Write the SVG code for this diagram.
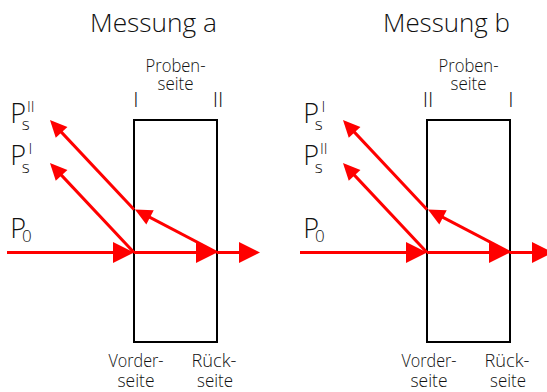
<svg xmlns="http://www.w3.org/2000/svg" width="547" height="392" viewBox="0 0 547 392">
<style>
text{font-family:"Open Sans","Noto Sans","Liberation Sans",sans-serif;font-weight:300;fill:#111}
.title{font-size:26px;text-anchor:middle}
.lbl{font-size:18px;text-anchor:middle}
.face{font-size:21px;text-anchor:middle}
.P{font-size:27px}
.sub{font-size:17px}
.sup{font-size:15px}
.box{fill:none;stroke:#000;stroke-width:2}
.ray{stroke:#ff0000;stroke-width:3;fill:none}
.big{marker-end:url(#bigHead)}
.sml{marker-end:url(#smlHead)}
</style>
<defs>
<marker id="bigHead" markerUnits="userSpaceOnUse" markerWidth="21" markerHeight="21" refX="17" refY="10.5" orient="auto" overflow="visible">
<path d="M0,0 L21,10.5 L0,21 z" fill="#ff0000"/>
</marker>
<marker id="smlHead" markerUnits="userSpaceOnUse" markerWidth="17" markerHeight="16" refX="13" refY="8" orient="auto" overflow="visible">
<path d="M0,0 L17,8 L0,16 z" fill="#ff0000"/>
</marker>
</defs>

<g id="measurement-a">
<text class="title" x="153.5" y="32" textLength="127" lengthAdjust="spacingAndGlyphs">Messung a</text>
<g id="sample-a">
<rect class="box" x="134" y="120" width="83" height="222"/>
<text class="lbl" x="175.5" y="72" textLength="60" lengthAdjust="spacingAndGlyphs">Proben-</text>
<text class="lbl" x="175.5" y="90" textLength="36" lengthAdjust="spacingAndGlyphs">seite</text>
<text class="face" x="136" y="107">I</text>
<text class="face" x="218" y="107">II</text>
<text class="lbl" x="136" y="366.5" textLength="55" lengthAdjust="spacingAndGlyphs">Vorder-</text>
<text class="lbl" x="136" y="387" textLength="37" lengthAdjust="spacingAndGlyphs">seite</text>
<text class="lbl" x="214" y="366.5" textLength="45" lengthAdjust="spacingAndGlyphs">Rück-</text>
<text class="lbl" x="215" y="387" textLength="36" lengthAdjust="spacingAndGlyphs">seite</text>
</g>
<g id="label-a-PsII">
<text><tspan class="P" x="10.3" y="123">P</tspan><tspan class="sub" x="21.8" y="130">s</tspan><tspan class="sup" x="27" y="112">II</tspan></text>
</g>
<g id="label-a-PsI">
<text><tspan class="P" x="10.3" y="165">P</tspan><tspan class="sub" x="21.8" y="172.5">s</tspan><tspan class="sup" x="28.6" y="154.3">I</tspan></text>
</g>
<g id="label-a-P0">
<text><tspan class="P" x="10.3" y="238">P</tspan><tspan class="sub" x="22" y="241.5">0</tspan></text>
</g>
</g>

<g id="measurement-b">
<text class="title" x="446.5" y="32" textLength="127" lengthAdjust="spacingAndGlyphs">Messung b</text>
<g id="sample-b">
<rect class="box" x="427" y="120" width="83" height="222"/>
<text class="lbl" x="468.5" y="72" textLength="60" lengthAdjust="spacingAndGlyphs">Proben-</text>
<text class="lbl" x="468.5" y="90" textLength="36" lengthAdjust="spacingAndGlyphs">seite</text>
<text class="face" x="428" y="107">II</text>
<text class="face" x="511" y="107">I</text>
<text class="lbl" x="429" y="366.5" textLength="55" lengthAdjust="spacingAndGlyphs">Vorder-</text>
<text class="lbl" x="429" y="387" textLength="37" lengthAdjust="spacingAndGlyphs">seite</text>
<text class="lbl" x="507" y="366.5" textLength="45" lengthAdjust="spacingAndGlyphs">Rück-</text>
<text class="lbl" x="508" y="387" textLength="36" lengthAdjust="spacingAndGlyphs">seite</text>
</g>
<g id="label-b-PsI">
<text><tspan class="P" x="303.3" y="123">P</tspan><tspan class="sub" x="314.8" y="130">s</tspan><tspan class="sup" x="321.6" y="112">I</tspan></text>
</g>
<g id="label-b-PsII">
<text><tspan class="P" x="303.3" y="165">P</tspan><tspan class="sub" x="314.8" y="172.5">s</tspan><tspan class="sup" x="320" y="154.3">II</tspan></text>
</g>
<g id="label-b-P0">
<text><tspan class="P" x="303.3" y="238">P</tspan><tspan class="sub" x="315" y="241.5">0</tspan></text>
</g>
</g>

<g id="connectors">
<line class="ray big" x1="7" y1="252.5" x2="130" y2="252.5"/>
<line class="ray big" x1="134" y1="252.5" x2="213" y2="252.5"/>
<line class="ray big" x1="217" y1="252.5" x2="256" y2="252.5"/>
<line class="ray sml" x1="217" y1="252.5" x2="138.5" y2="211.4"/>
<line class="ray sml" x1="134" y1="252.5" x2="52.7" y2="165.9"/>
<line class="ray sml" x1="134" y1="209.5" x2="52.7" y2="122.9"/>

<line class="ray big" x1="300" y1="252.5" x2="423" y2="252.5"/>
<line class="ray big" x1="427" y1="252.5" x2="506" y2="252.5"/>
<line class="ray big" x1="510" y1="252.5" x2="549" y2="252.5"/>
<line class="ray sml" x1="510" y1="252.5" x2="431.5" y2="211.4"/>
<line class="ray sml" x1="427" y1="252.5" x2="345.7" y2="165.9"/>
<line class="ray sml" x1="427" y1="209.5" x2="345.7" y2="122.9"/>
</g>
</svg>
